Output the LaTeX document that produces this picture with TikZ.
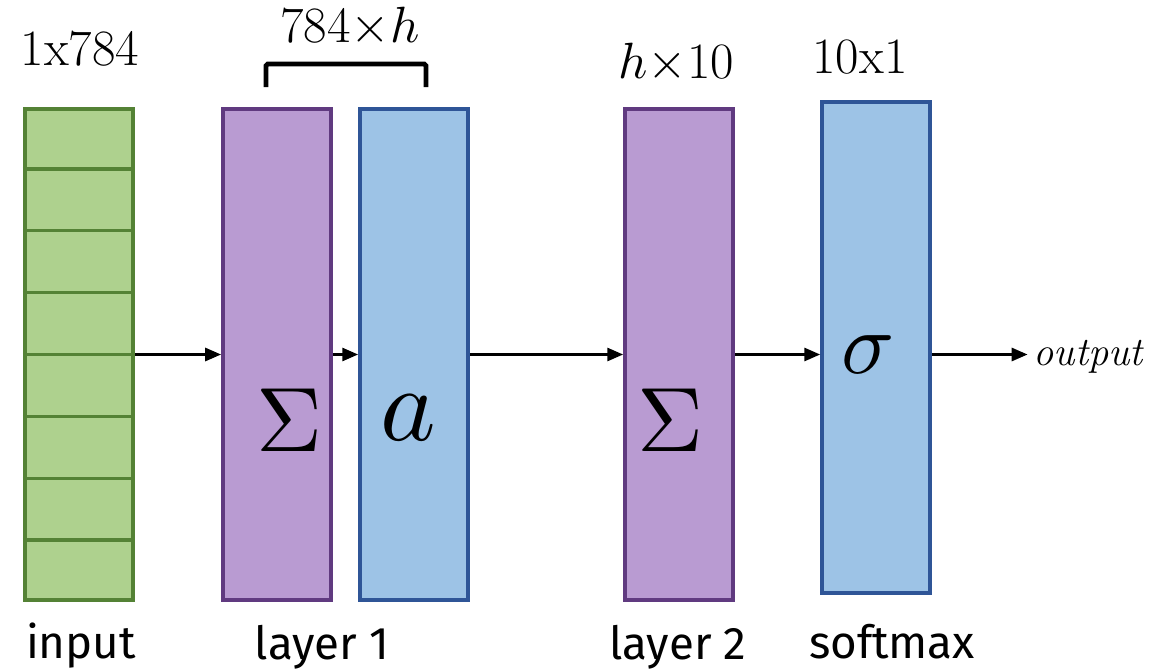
\documentclass[tikz,border=0pt]{standalone}
\usepackage{fontspec}
\usepackage{unicode-math}
\setmathfont{Latin Modern Math}
\usepackage{xcolor}
\usepackage{tikz}
\usetikzlibrary{arrows.meta, positioning, calc}
\newfontfamily\labelfont{Fira Sans}
\definecolor{inputgreen}{RGB}{84,130,53}
\definecolor{inputlight}{RGB}{174,209,142}
\definecolor{sumpurple}{RGB}{96,58,128}
\definecolor{sumlight}{RGB}{185,155,210}
\definecolor{actblue}{RGB}{47,85,151}
\definecolor{actlight}{RGB}{157,195,230}
\tikzset{
  block/.style={rectangle, draw, line width=2.3pt, minimum width=2.16cm,
    minimum height=9.82cm, inner sep=0pt},
  inputblock/.style={block, fill=inputlight, draw=inputgreen},
  sumblock/.style={block, fill=sumlight, draw=sumpurple},
  actblock/.style={block, fill=actlight, draw=actblue},
  dims/.style={font=\fontsize{29}{32}\selectfont, anchor=base},
  caption/.style={font=\labelfont\fontsize{26}{30}\selectfont, anchor=base},
  sym/.style={font=\fontsize{52}{56}\selectfont},
  arrow/.style={-{Triangle[length=9pt, width=7.5pt]}, line width=1.3pt},
}
\begin{document}
\begin{tikzpicture}
  \useasboundingbox (0,0) rectangle (23,13.38);
  % layers
  \node[inputblock] (input) at (1.58,6.29) {};
  \node[sumblock, right=1.72cm of input] (l1sum) {};
  \node[actblock, right=0.5cm of l1sum] (l1act) {};
  \node[sumblock, right=3.06cm of l1act] (l2sum) {};
  \node[actblock, right=1.7cm of l2sum, yshift=0.14cm] (softmax) {};
  % input cells
  \foreach \i in {1,...,7}
    \draw[inputgreen, line width=2pt]
      ($(input.north west)!\i/8!(input.south west)$) --
      ($(input.north east)!\i/8!(input.south east)$);
  % symbols
  \node[sym] (l1sumsym) at ([shift={(0.25,-1.31)}]l1sum.center) {$\Sigma$};
  \node[sym, font=\fontsize{60}{64}\selectfont] (l1actsym)
    at ([shift={(-0.12,-1.27)}]l1act.center) {$a$};
  \node[sym] (l2sumsym) at ([shift={(-0.18,-1.31)}]l2sum.center) {$\Sigma$};
  \node[sym, font=\fontsize{50}{54}\selectfont] (softmaxsym)
    at ([shift={(-0.18,-0.16)}]softmax.center) {$\sigma$};
  % dimensions
  \node[dims] (indim) at (1.6,12.08) {1x784};
  \node[dims] (l1dim) at (7.0,12.52) {784$\times h$};
  \node[dims] (l2dim) at (13.52,11.82) {$h\times$10};
  \node[dims] (smdim) at (17.2,11.92) {10x1};
  \coordinate (bl) at (5.32,11.64);
  \coordinate (br) at (8.52,11.64);
  \draw[line width=2.8pt, rounded corners=1pt]
    (bl) -- ++(0,0.46) -| (br);
  % captions
  \node[caption] (inname) at (1.62,0.22) {input};
  \node[caption] (l1name) at (6.44,0.2) {layer 1};
  \node[caption] (l2name) at (13.56,0.2) {layer 2};
  \node[caption] (smname) at (17.84,0.22) {softmax};
  % connections
  \draw[arrow] (input) -- (l1sum);
  \draw[arrow] (l1sum) -- (l1act);
  \draw[arrow] (l1act) -- (l2sum);
  \draw[arrow] (l2sum.east) -- (softmax.west |- l2sum.east);
  \node[font=\fontsize{23}{26}\selectfont\itshape, anchor=base west]
    (output) at (20.55,6.08) {output};
  \draw[arrow] (softmax.east |- l2sum.east) -- (output.west |- l2sum.east);
\end{tikzpicture}
\end{document}
